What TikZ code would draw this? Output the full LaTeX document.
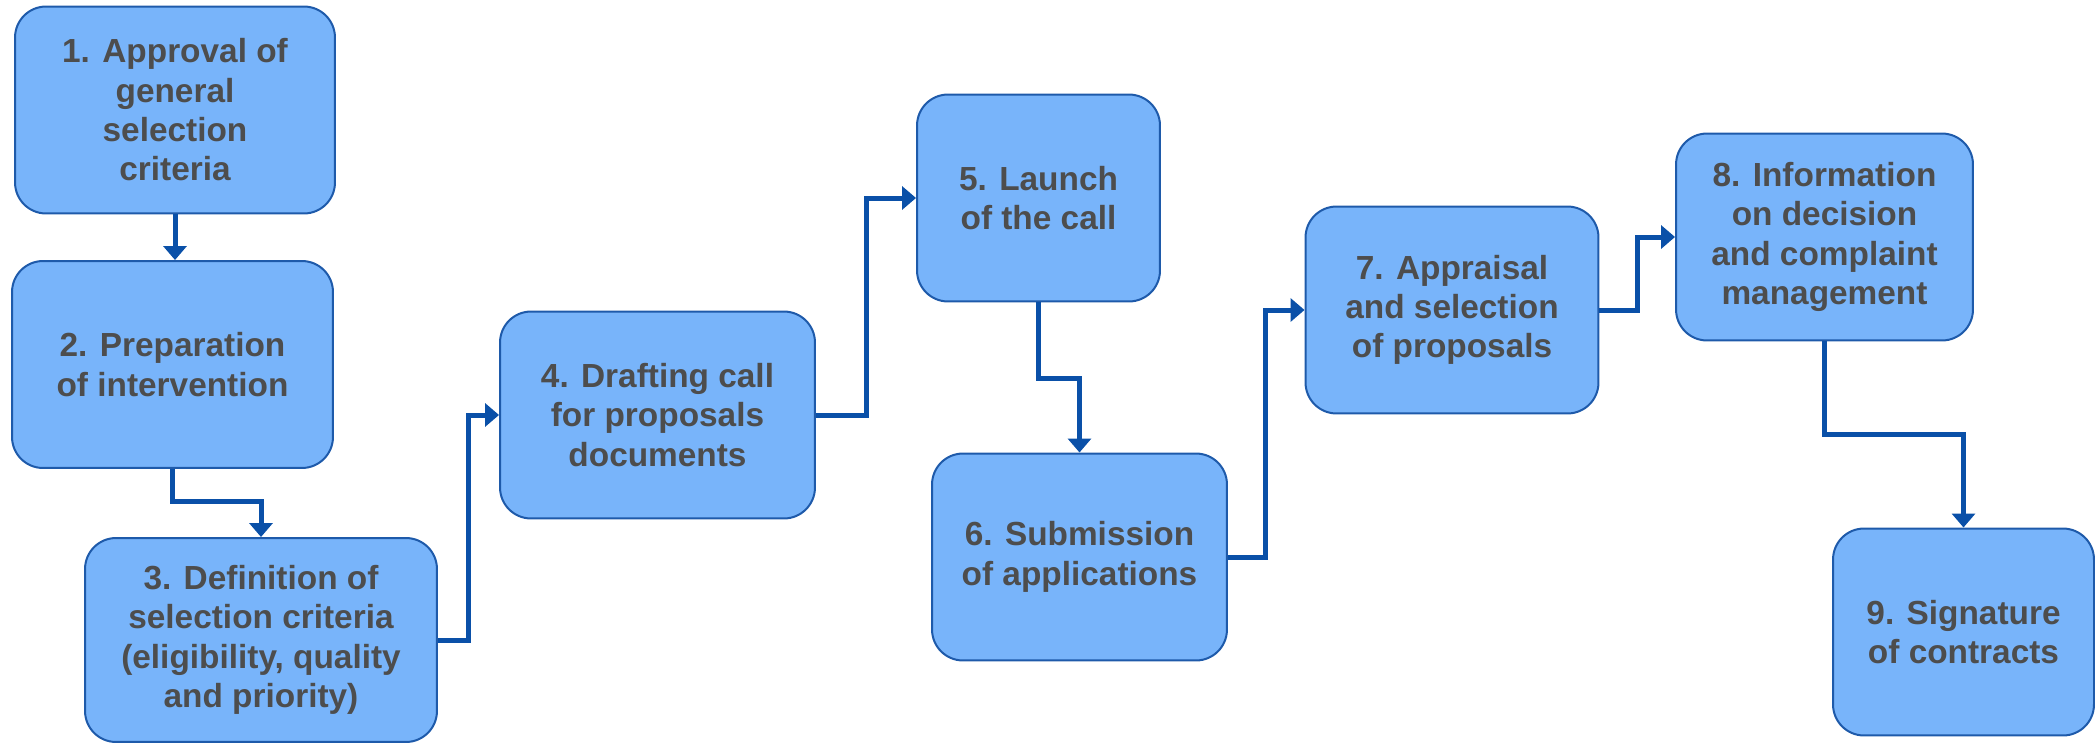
\documentclass[tikz,border=0pt]{standalone}
\usepackage{fontspec}
\setmainfont{Liberation Sans}
\usepackage{tikz}
\usetikzlibrary{arrows.meta}
\definecolor{boxfill}{RGB}{120,180,250}
\definecolor{boxline}{RGB}{30,90,170}
\definecolor{flowblue}{RGB}{10,80,168}
\definecolor{steptext}{RGB}{77,77,77}

\begin{document}
\begin{tikzpicture}[x=0.02cm,y=-0.02cm,
  stepbox/.style={rectangle,draw=boxline,fill=boxfill,line width=0.04cm,rounded corners=0.62cm,
    minimum height=4.14cm,align=center,text=steptext,
    font=\fontsize{19}{22.4}\selectfont\bfseries},
  flow/.style={draw=flowblue,line width=0.1cm,-{Triangle[width=0.46cm,length=0.28cm]}}]
  \useasboundingbox (0,0) rectangle (2096,744);
  \node[stepbox,minimum width=6.4cm] (s1) at (175,110) {1. Approval of\\general\\selection\\criteria};
  \node[stepbox,minimum width=6.42cm] (s2) at (172.5,364.5) {2. Preparation\\of intervention};
  \node[stepbox,minimum width=7.04cm,minimum height=4.08cm] (s3) at (261,640)
    {3. Definition of\\selection criteria\\(eligibility, quality\\and priority)};
  \node[stepbox,minimum width=6.3cm] (s4) at (657.5,415) {4. Drafting call\\for proposals\\documents};
  \node[stepbox,minimum width=4.86cm] (s5) at (1038.5,198) {5. Launch\\of the call};
  \node[stepbox,minimum width=5.9cm] (s6) at (1079.5,557) {6. Submission\\of applications};
  \node[stepbox,minimum width=5.86cm] (s7) at (1452,310) {7. Appraisal\\and selection\\of proposals};
  \node[stepbox,minimum width=5.94cm] (s8) at (1824.5,237) {8. Information\\on decision\\and complaint\\management};
  \node[stepbox,minimum width=5.22cm] (s9) at (1963.5,632) {9. Signature\\of contracts};

  \draw[flow] (s1.south) -- (s1.south |- s2.north);
  \draw[flow] (s2.south) -- ++(0,33) -| (s3.north);
  \draw[flow] (s3.east) -- ++(31,0) |- (s4.west);
  \draw[flow] (s4.east) -- ++(51,0) |- (s5.west);
  \draw[flow] (s5.south) -- ++(0,76) -| (s6.north);
  \draw[flow] (s6.east) -- ++(38,0) |- (s7.west);
  \draw[flow] (s7.east) -- ++(38,0) |- (s8.west);
  \draw[flow] (s8.south) -- ++(0,93) -| (s9.north);
\end{tikzpicture}
\end{document}
